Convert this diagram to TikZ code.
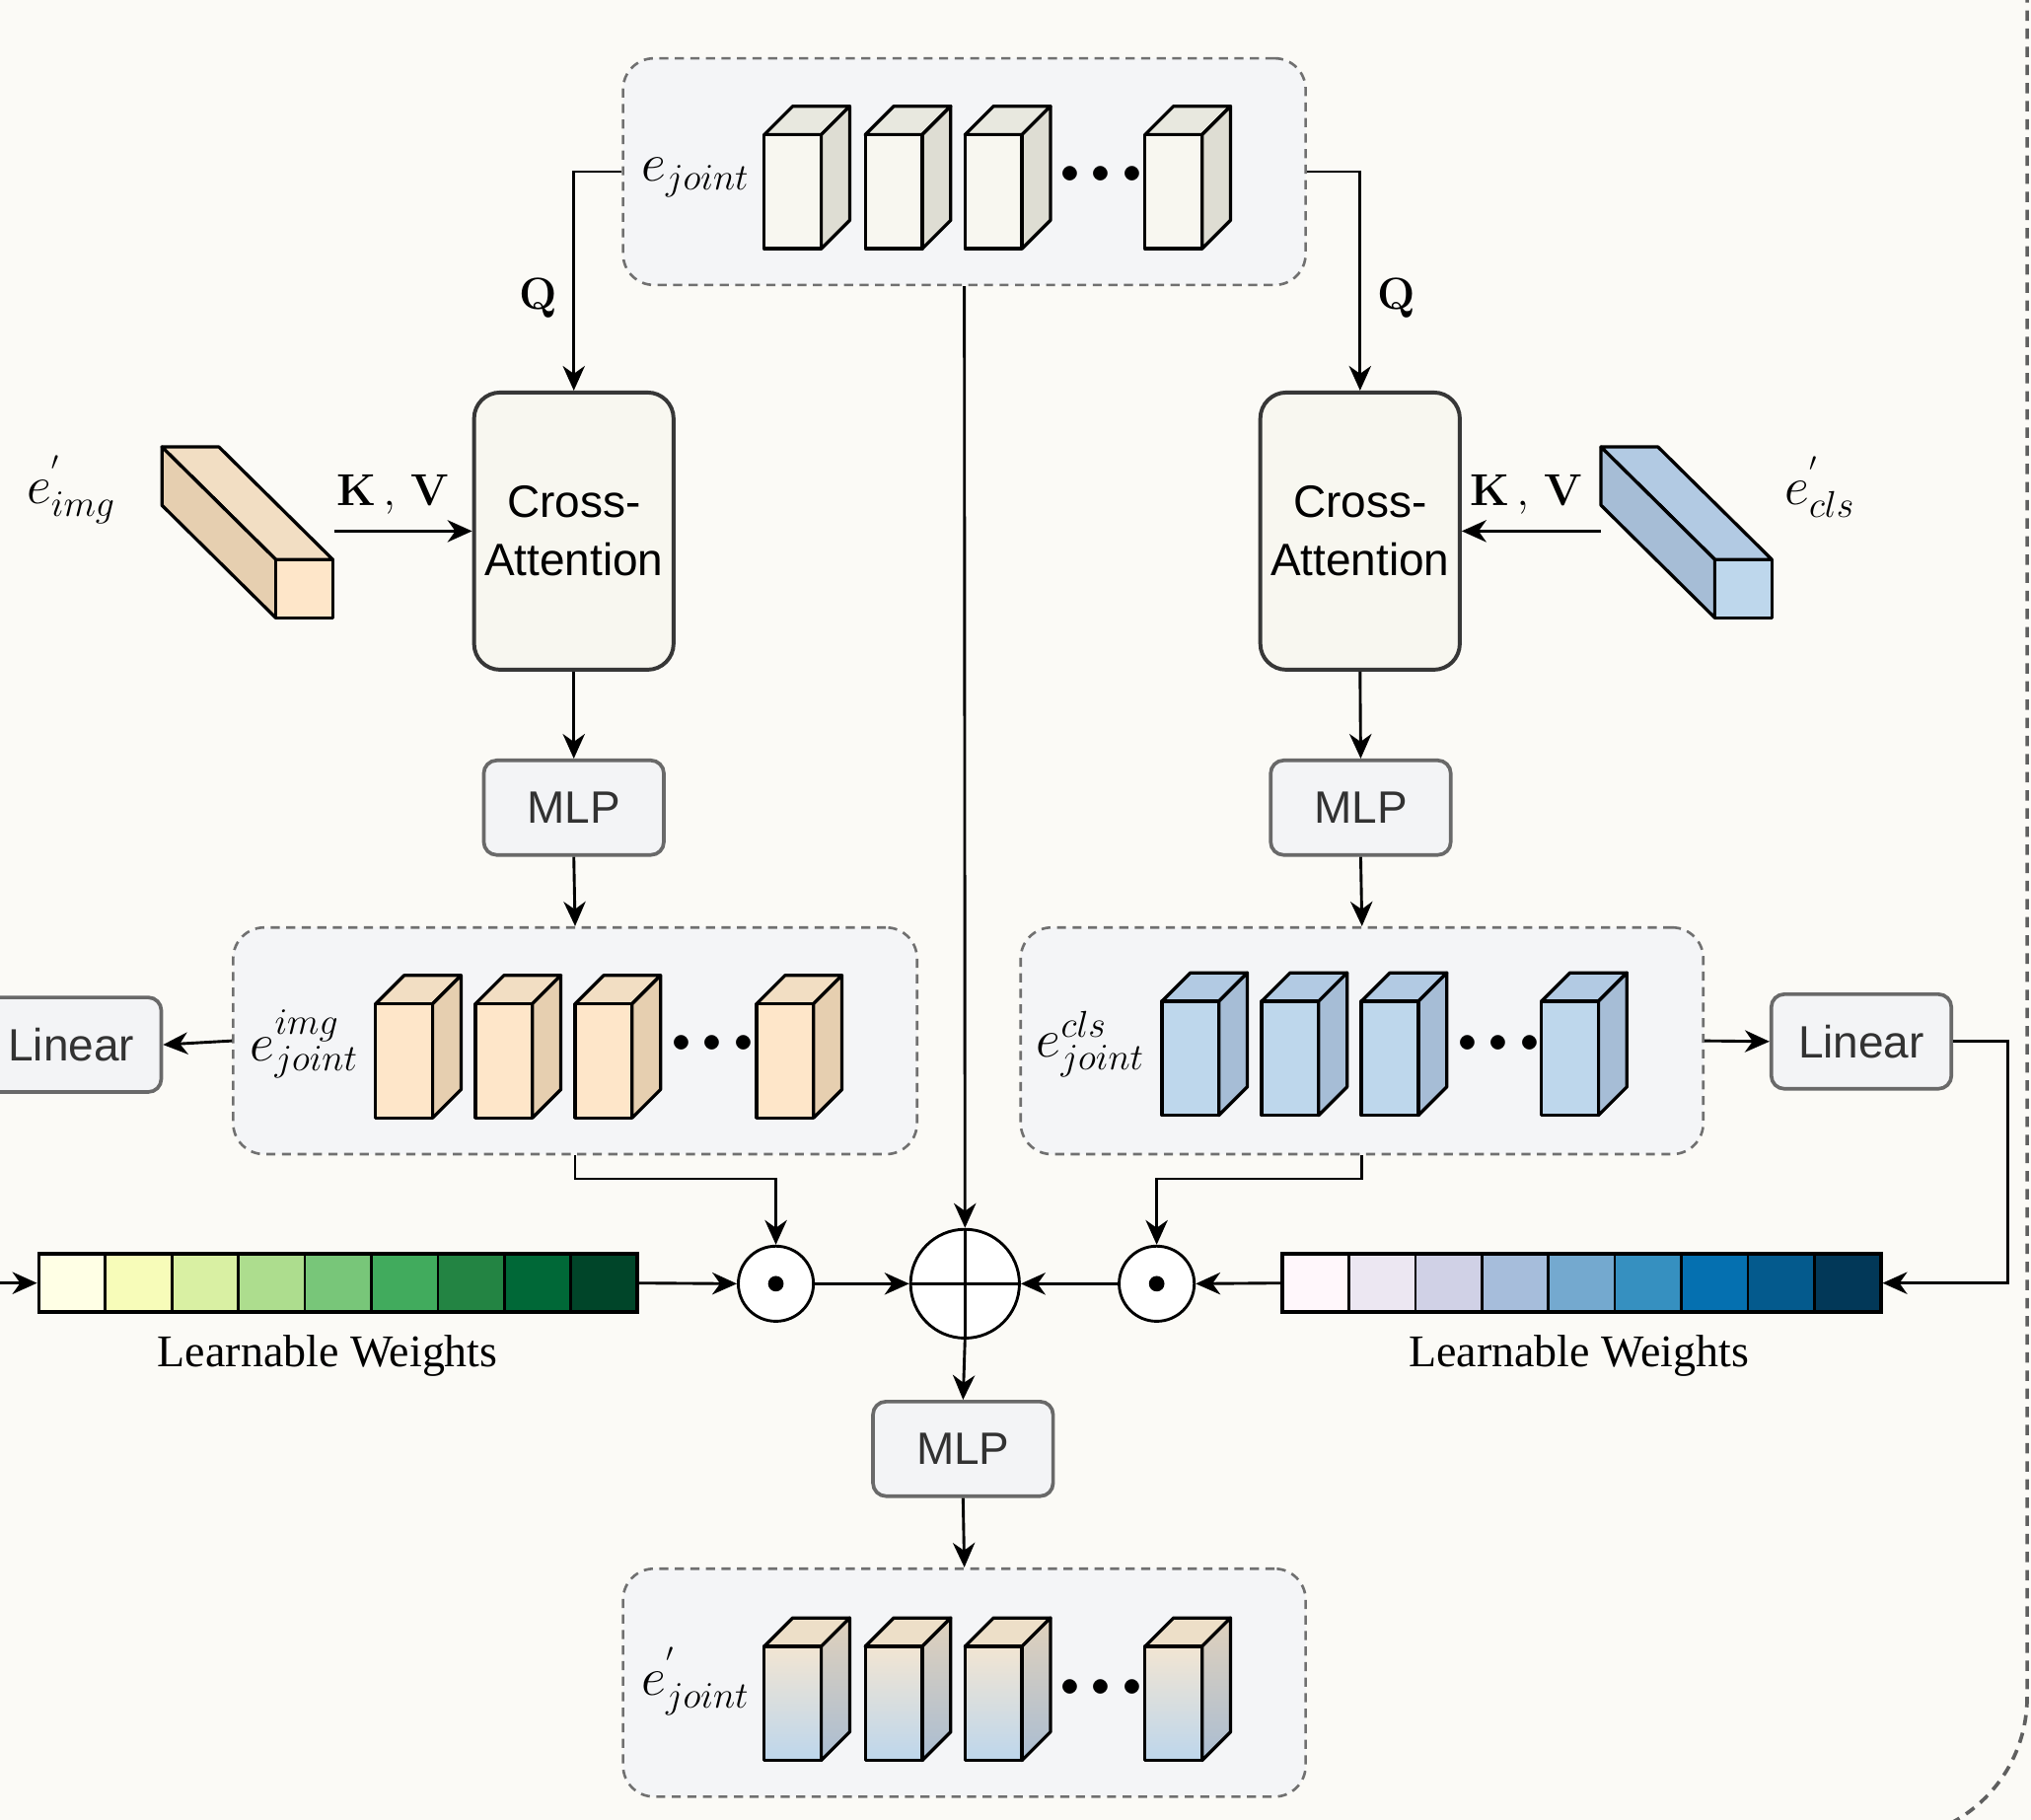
\documentclass[tikz,border=0pt]{standalone}
\usepackage[no-math]{fontspec}
\setsansfont{Liberation Sans}
\newfontfamily\wfont{Liberation Serif}
\usetikzlibrary{arrows.meta, positioning, fit, calc}

\definecolor{bgcol}{RGB}{251,250,246}
\definecolor{contfill}{RGB}{244,245,247}
\definecolor{contline}{RGB}{112,112,112}
\definecolor{attnfill}{RGB}{248,247,240}
\definecolor{attnline}{RGB}{55,55,55}
\definecolor{boxfill}{RGB}{243,244,246}
\definecolor{boxline}{RGB}{105,105,105}
\definecolor{boxtext}{RGB}{50,50,50}
% cube colours
\definecolor{wfront}{RGB}{248,247,240}
\definecolor{wtop}{RGB}{232,232,223}
\definecolor{wside}{RGB}{222,221,211}
\definecolor{pfront}{RGB}{254,230,201}
\definecolor{ptop}{RGB}{242,222,195}
\definecolor{pside}{RGB}{230,207,176}
\definecolor{bfront}{RGB}{190,215,236}
\definecolor{btop}{RGB}{178,202,227}
\definecolor{bside}{RGB}{166,189,214}
\definecolor{gfront}{RGB}{189,214,236}
\definecolor{gfronttop}{RGB}{242,229,210}
\definecolor{gside}{RGB}{170,189,210}
\definecolor{gsidetop}{RGB}{224,209,188}
\definecolor{gtop}{RGB}{237,223,200}
% weights
\definecolor{yg1}{HTML}{FFFFE5}\definecolor{yg2}{HTML}{F7FCB9}\definecolor{yg3}{HTML}{D9F0A3}
\definecolor{yg4}{HTML}{ADDD8E}\definecolor{yg5}{HTML}{78C679}\definecolor{yg6}{HTML}{41AB5D}
\definecolor{yg7}{HTML}{238443}\definecolor{yg8}{HTML}{006837}\definecolor{yg9}{HTML}{004529}
\definecolor{pb1}{HTML}{FFF7FB}\definecolor{pb2}{HTML}{ECE7F2}\definecolor{pb3}{HTML}{D0D1E6}
\definecolor{pb4}{HTML}{A6BDDB}\definecolor{pb5}{HTML}{74A9CF}\definecolor{pb6}{HTML}{3690C0}
\definecolor{pb7}{HTML}{0570B0}\definecolor{pb8}{HTML}{045A8D}\definecolor{pb9}{HTML}{023858}

% upright token cube: x, y of front top-left, then front / top / side options
\newcommand{\vcube}[5]{
  \draw[cubeline, #4] (#1,#2) -- ++(22,-22) -- ++(44,0) -- ++(-22,22) -- cycle;
  \draw[cubeline, #5] (#1+44,#2) -- ++(22,-22) -- ++(0,88) -- ++(-22,22) -- cycle;
  \draw[cubeline, #3] (#1,#2) rectangle ++(44,88);
}
% long slanted bar: x, y of front square top-left
\newcommand{\longbar}[5]{
  \draw[cubeline, #4] (#1,#2) -- ++(44,0) -- ++(-88,-87) -- ++(-44,0) -- cycle;
  \draw[cubeline, #5] (#1,#2) -- ++(0,45) -- ++(-88,-87) -- ++(0,-45) -- cycle;
  \draw[cubeline, #3] (#1,#2) rectangle ++(44,45);
}

\begin{document}
\begin{tikzpicture}[x=0.5pt, y=-0.5pt,
  cont/.style={draw=contline, fill=contfill, dash pattern=on 3.5pt off 2.5pt, line width=1pt, rounded corners=12pt, inner sep=0pt},
  attn/.style={draw=attnline, fill=attnfill, line width=1.5pt, rounded corners=10pt, minimum width=77pt, minimum height=107pt, align=center, inner sep=0pt, font=\sffamily\fontsize{17.5}{22.5}\selectfont},
  smallbox/.style={draw=boxline, fill=boxfill, text=boxtext, line width=1.4pt, rounded corners=5pt, minimum width=69.5pt, minimum height=36.5pt, inner sep=0pt, font=\sffamily\fontsize{17.5}{21}\selectfont},
  lbl/.style={font=\fontsize{20}{24}\selectfont, inner sep=0pt},
  bold/.style={font=\fontsize{19}{22}\selectfont, inner sep=0pt},
  dots/.style={font=\fontsize{15}{17}\selectfont, inner sep=0pt},
  arr/.style={-{Stealth[length=9.5pt, width=8.5pt, inset=3pt]}, line width=1.1pt},
  cubeline/.style={line width=1.25pt, line join=round},
  cell/.style={draw=black, line width=1pt},
  prod/.style={circle, draw, fill=white, line width=1.1pt, minimum size=29pt, inner sep=0pt},
  wlabel/.style={font=\wfont\fontsize{17.5}{21}\selectfont},
  outer/.style={draw=contline!85!black, line width=1.4pt, dash pattern=on 4pt off 3pt, rounded corners=55pt},
]
  \path[use as bounding box, fill=bgcol] (0,0) rectangle (1568,1405);
  \clip (0,0) rectangle (1568,1405);

  % outer frame
  \draw[outer] (1565,-20) -- (1565,1420) -- (1200,1420);

  % token containers
  \node[cont, fit={(481,45) (1008,220)}] (topbox) {};
  \node[cont, fit={(180,716) (708,891)}] (midL) {};
  \node[cont, fit={(788,716) (1315,891)}] (midR) {};
  \node[cont, fit={(481,1211) (1008,1387)}] (botbox) {};

  % cubes
  \foreach \cx in {590,668,745,884}
    \vcube{\cx}{104}{fill=wfront}{fill=wtop}{fill=wside};
  \foreach \cx in {290,367,444,584}
    \vcube{\cx}{775}{fill=pfront}{fill=ptop}{fill=pside};
  \foreach \cx in {897,974,1051,1190}
    \vcube{\cx}{773}{fill=bfront}{fill=btop}{fill=bside};
  \foreach \cx in {590,668,745,884}
    \vcube{\cx}{1271}{top color=gfronttop, bottom color=gfront}{fill=gtop}{top color=gsidetop, bottom color=gside};

  \node[dots] (dotsT) at (850,135) {$\bullet\mkern2mu\bullet\mkern2mu\bullet$};
  \node[dots] (dotsL) at (550,806) {$\bullet\mkern2mu\bullet\mkern2mu\bullet$};
  \node[dots] (dotsR) at (1157,806) {$\bullet\mkern2mu\bullet\mkern2mu\bullet$};
  \node[dots] (dotsB) at (850,1303) {$\bullet\mkern2mu\bullet\mkern2mu\bullet$};

  % labels
  \node[lbl] (ejoint) at (537,137) {$e_{joint}$};
  \node[lbl] (ejimg) at (235,806) {$e^{img}_{joint}$};
  \node[lbl] (ejcls) at (842,806) {$e^{cls}_{joint}$};
  \node[lbl] (ejout) at (537,1298) {$e^{'}_{joint}$};
  \node[lbl] (eimg) at (55,378) {$e^{'}_{img}$};
  \node[lbl] (ecls) at (1405,376) {$e^{'}_{cls}$};

  % slanted inputs
  \longbar{213}{432}{fill=pfront}{fill=ptop}{fill=pside}
  \longbar{1324}{432}{fill=bfront}{fill=btop}{fill=bside}
  \coordinate (kvL) at (258,410);
  \coordinate (kvR) at (1236,410);

  % blocks
  \node[attn] (caL) at (443,410) {Cross-\\Attention};
  \node[attn] (caR) at (1050,410) {Cross-\\Attention};
  \node[smallbox] (mlpL) at (443,623.5) {MLP};
  \node[smallbox] (mlpR) at (1050.5,623.5) {MLP};
  \node[smallbox] (mlpB) at (743.5,1118.5) {MLP};
  \node[smallbox] (linL) at (55,806.5) {Linear};
  \node[smallbox] (linR) at (1437,804) {Linear};

  % learnable weights
  \foreach \c [count=\i from 0] in {yg1,yg2,yg3,yg4,yg5,yg6,yg7,yg8,yg9}
    \draw[cell, fill=\c] (30+51.33*\i,968) rectangle ++(51.33,45);
  \foreach \c [count=\i from 0] in {pb1,pb2,pb3,pb4,pb5,pb6,pb7,pb8,pb9}
    \draw[cell, fill=\c] (990+51.33*\i,968) rectangle ++(51.33,45);
  \node[fit={(30,968) (492,1013)}, inner sep=0pt, draw, line width=1.4pt] (barL) {};
  \node[fit={(990,968) (1452,1013)}, inner sep=0pt, draw, line width=1.4pt] (barR) {};
  \node[wlabel] (wL) at (253,1047) {Learnable Weights};
  \node[wlabel] (wR) at (1219,1047) {Learnable Weights};

  % fusion
  \node[prod] (odotL) at (599,991) {};
  \node[prod] (odotR) at (893,991) {};
  \fill (odotL) circle (6);
  \fill (odotR) circle (6);
  \node[prod, minimum size=42pt] (oplus) at (745,991) {};
  \draw[line width=1.1pt] (oplus.north) -- (oplus.south) (oplus.west) -- (oplus.east);

  % connections
  \draw[arr] (topbox.west) -| (caL.north) node[pos=0.79, left=6pt, bold] (qL) {$\mathbf{Q}$};
  \draw[arr] (topbox.east) -| (caR.north) node[pos=0.79, right=6pt, bold] (qR) {$\mathbf{Q}$};
  \draw[arr] (topbox.south) -- (oplus.north);
  \draw[arr] (kvL) -- (caL.west) node[midway, above=6pt, xshift=-4pt, bold] (kvLtxt) {$\mathbf{K\,,\,V}$};
  \draw[arr] (kvR) -- (caR.east) node[midway, above=6pt, xshift=-2pt, bold] (kvRtxt) {$\mathbf{K\,,\,V}$};
  \draw[arr] (caL.south) -- (mlpL.north);
  \draw[arr] (caR.south) -- (mlpR.north);
  \draw[arr] (mlpL.south) -- (midL.north);
  \draw[arr] (mlpR.south) -- (midR.north);
  \draw[arr] (midL.west) -- (linL.east);
  \draw[arr] (midR.east) -- (linR.west);
  \draw[arr] (linR.east) -- ++(42,0) |- (barR.east);
  \draw[arr] (linL.west) -- ++(-40,0) |- (barL.west);
  \draw[arr] (midL.south) -- ++(0,18) -| (odotL.north);
  \draw[arr] (midR.south) -- ++(0,18) -| (odotR.north);
  \draw[arr] (barL.east) -- (odotL.west);
  \draw[arr] (barR.west) -- (odotR.east);
  \draw[arr] (odotL.east) -- (oplus.west);
  \draw[arr] (odotR.west) -- (oplus.east);
  \draw[arr] (oplus.south) -- (mlpB.north);
  \draw[arr] (mlpB.south) -- (botbox.north);
\end{tikzpicture}
\end{document}
